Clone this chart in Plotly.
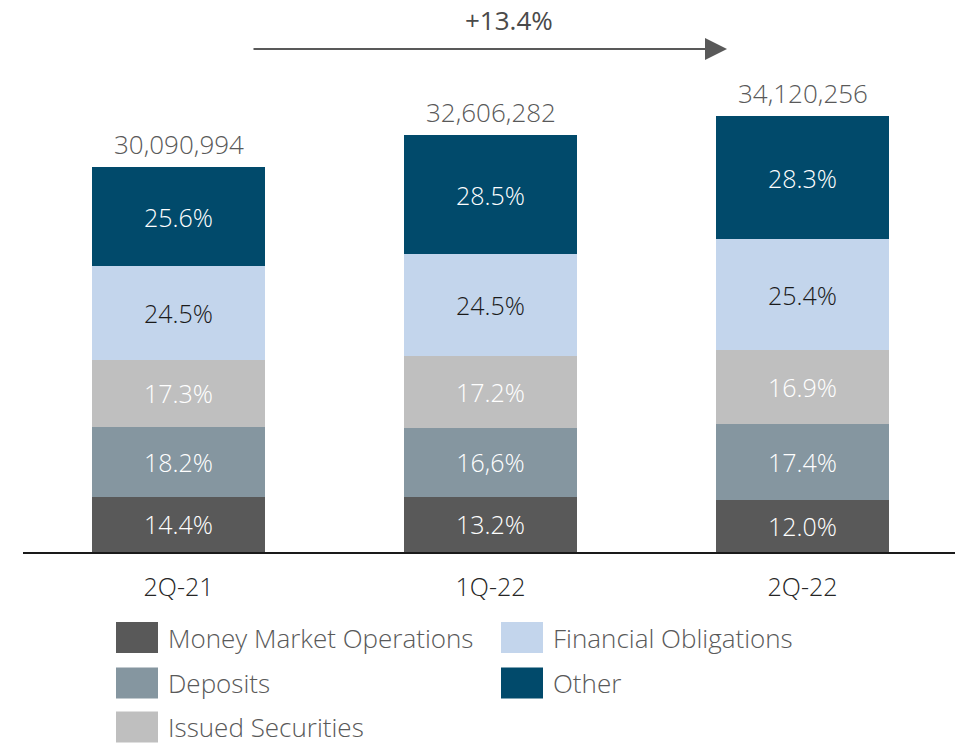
import plotly.graph_objects as go

# Funding structure by quarter
quarters = ["2Q-21", "1Q-22", "2Q-22"]
totals = [30090994, 32606282, 34120256]
total_labels = ["30,090,994", "32,606,282", "34,120,256"]

series_names = ["Money Market Operations", "Deposits", "Issued Securities",
                "Financial Obligations", "Other"]
money_market_pct = [14.4, 13.2, 12.0]
deposits_pct = [18.2, 16.6, 17.4]
issued_securities_pct = [17.3, 17.2, 16.9]
financial_obligations_pct = [24.5, 24.5, 25.4]
other_pct = [25.6, 28.5, 28.3]
deposits_text = ["18.2%", "16,6%", "17.4%"]

growth_label = "+13.4%"

colors = ["#595959", "#8596A0", "#BFBFBF", "#C3D5EC", "#014A6B"]
text_colors = ["white", "white", "white", "#1a1a1a", "white"]

shares = [money_market_pct, deposits_pct, issued_securities_pct,
          financial_obligations_pct, other_pct]

FONT = "Open Sans"
W, H = 955, 745
ML, MR, MT, MB = 23, 0, 0, 193
PW, PH = W - ML - MR, H - MT - MB


def px_x(x):
    return (x - ML) / PW


def px_y(y):
    return 1 - (y - MT) / PH


fig = go.Figure()
for i, name in enumerate(series_names):
    vals = [p * t / 100 for p, t in zip(shares[i], totals)]
    if name == "Deposits":
        labels = deposits_text
    else:
        labels = [f"{p:.1f}%" for p in shares[i]]
    fig.add_trace(go.Bar(
        x=quarters, y=vals, name=name,
        marker=dict(color=colors[i], line=dict(width=0)),
        text=labels, textposition="inside", insidetextanchor="middle",
        textangle=0, constraintext="none",
        textfont=dict(family=FONT, size=25, color=text_colors[i], weight=300),
        width=0.554, showlegend=False, hoverinfo="skip",
    ))

annotations = []
for q, t, lbl in zip(quarters, totals, total_labels):
    annotations.append(dict(
        x=q, y=t, xref="x", yref="y", text=lbl, showarrow=False,
        yanchor="bottom", yshift=3,
        font=dict(family=FONT, size=26, color="#595959", weight=300),
    ))

# growth arrow across the period
annotations.append(dict(
    x=px_x(727), y=px_y(49), xref="paper", yref="paper",
    ax=-475, ay=0, axref="pixel", ayref="pixel",
    showarrow=True, arrowhead=2, arrowsize=2.2, arrowwidth=2,
    arrowcolor="#595959", text="",
))
annotations.append(dict(
    x=px_x(509), y=px_y(20), xref="paper", yref="paper",
    text=growth_label, showarrow=False, xanchor="center", yanchor="middle",
    font=dict(family=FONT, size=26, color="#4a4a4a", weight=500),
))

# legend in two columns
shapes = []
legend_pos = [(116, 637.5), (116, 683), (116, 727), (501, 637.5), (501, 683)]
for i, name in enumerate(series_names):
    x0, yc = legend_pos[i]
    shapes.append(dict(
        type="rect", xref="paper", yref="paper",
        x0=px_x(x0), x1=px_x(x0 + 42), y0=px_y(yc - 15.5), y1=px_y(yc + 15.5),
        fillcolor=colors[i], line=dict(width=0),
    ))
    annotations.append(dict(
        x=px_x(x0 + 51), y=px_y(yc), xref="paper", yref="paper",
        text=name, showarrow=False, xanchor="left", yanchor="middle",
        borderpad=0,
        font=dict(family=FONT, size=26, color="#595959", weight=300),
    ))

fig.update_layout(
    barmode="stack",
    width=W, height=H,
    margin=dict(l=ML, r=MR, t=MT, b=MB, pad=0),
    paper_bgcolor="white", plot_bgcolor="white",
    annotations=annotations, shapes=shapes,
    showlegend=False,
    xaxis=dict(
        type="category", range=[-0.4984, 2.4888],
        showline=True, linecolor="#1a1a1a", linewidth=2,
        ticks="", showgrid=False, zeroline=False,
        tickfont=dict(family=FONT, size=25, color="#262626", weight=300),
        ticklabelstandoff=12,
    ),
    yaxis=dict(
        range=[0, PH / 12.78 * 1e6], visible=False, showgrid=False,
        zeroline=False,
    ),
)

fig.write_html("out.html")
